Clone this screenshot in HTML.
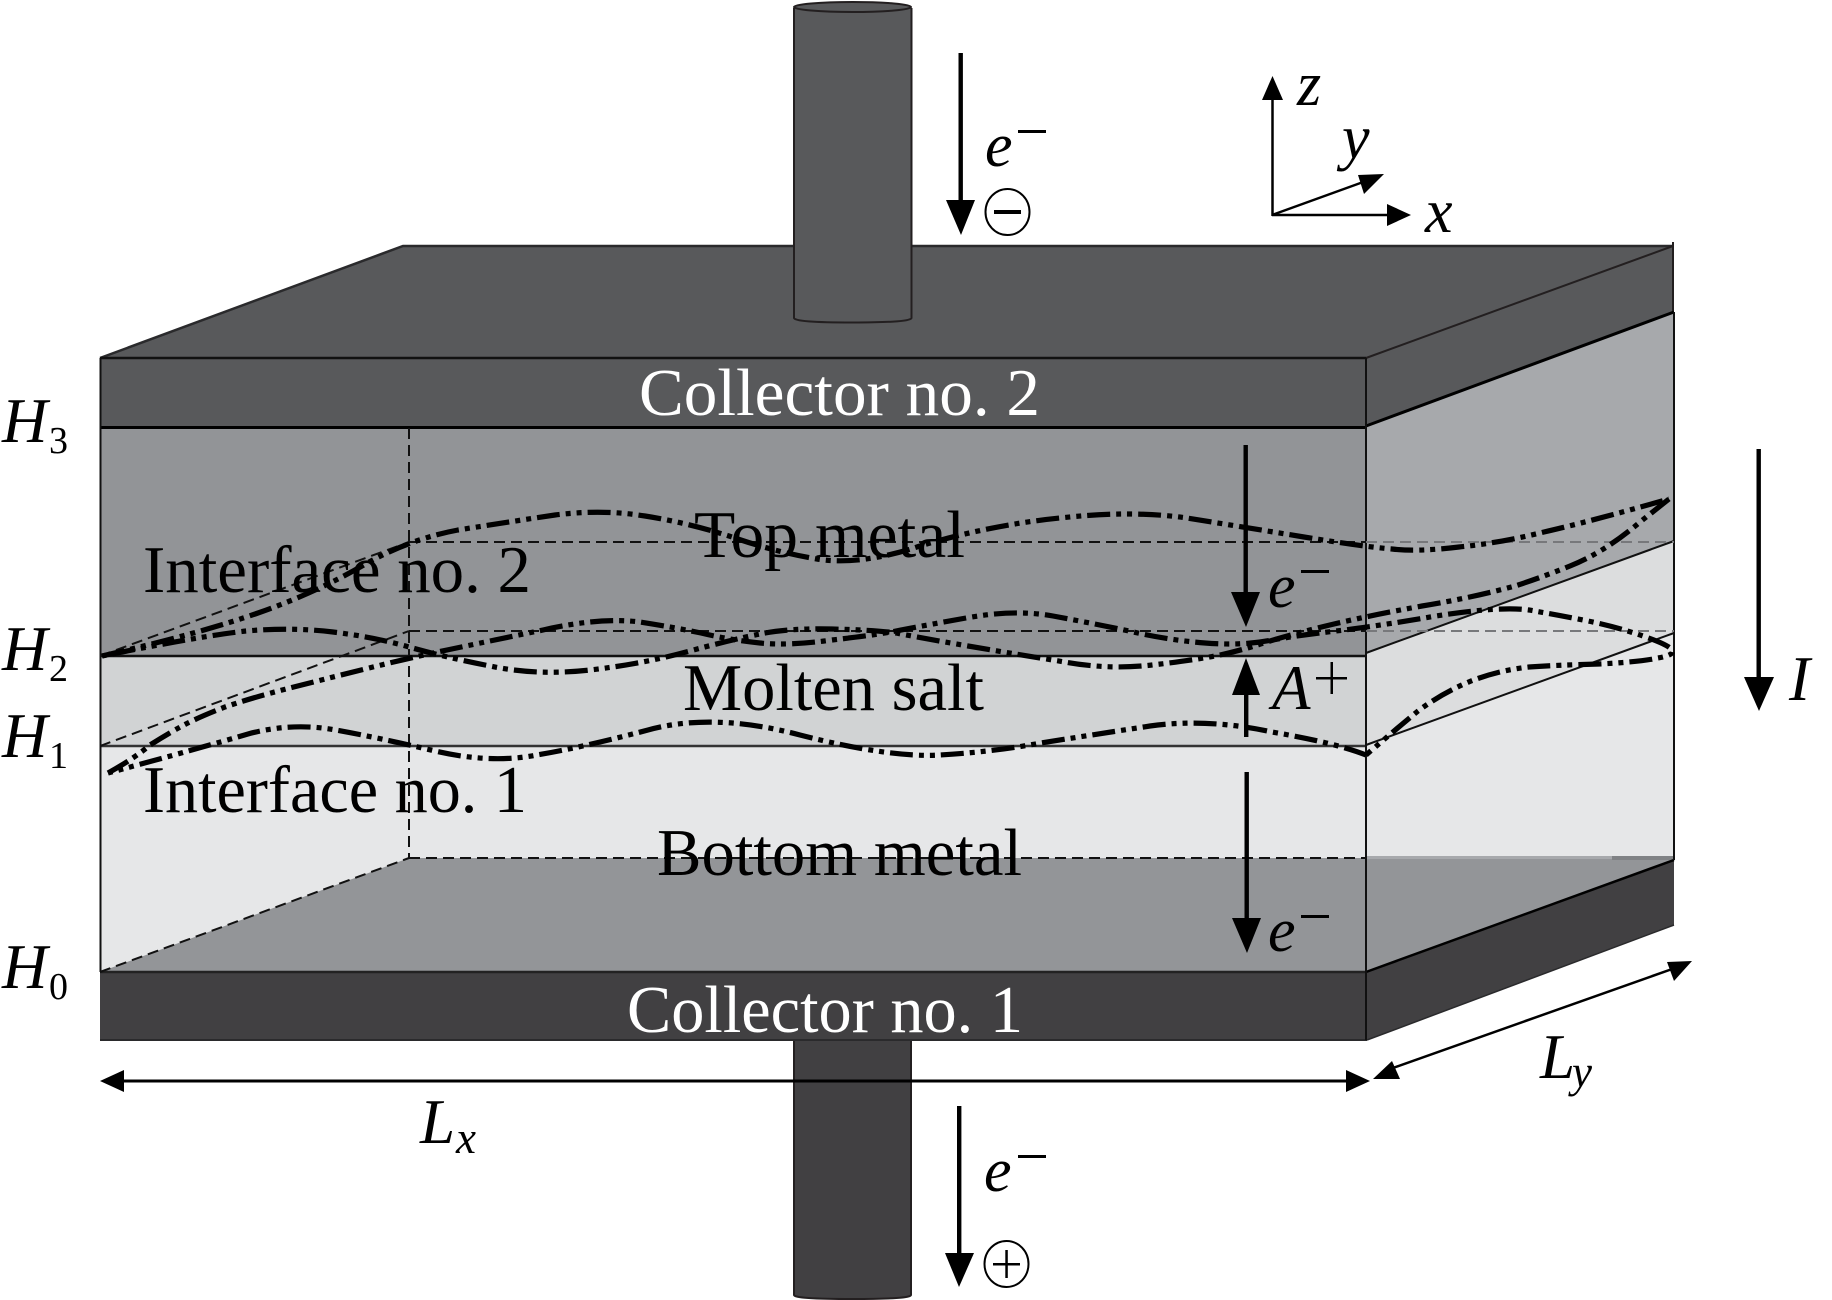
<!DOCTYPE html>
<html>
<head>
<meta charset="utf-8">
<style>
html,body{margin:0;padding:0;background:#fff;width:1832px;height:1300px;overflow:hidden}
svg{display:block}
text{font-family:"Liberation Serif",serif;fill:#000}
.i{font-style:italic}
.w{fill:#fff}
.wave{fill:none;stroke:#000;stroke-width:5.2;stroke-dasharray:23 6 5 6 5 6}
.dash{fill:none;stroke:#111;stroke-width:2;stroke-dasharray:11 6}
.gdash{fill:none;stroke:#77787b;stroke-width:2;stroke-dasharray:11 6}
</style>
</head>
<body>
<svg width="1832" height="1300" viewBox="0 0 1832 1300" xmlns="http://www.w3.org/2000/svg">
<rect width="1832" height="1300" fill="#fff"/>

<!-- top plate -->
<polygon points="100,358 403,246 1673,246 1366,358" fill="#58595b"/>
<polygon points="1366,358 1673,246 1674,312 1366,426" fill="#58595b"/>
<polyline points="100,358 403,246 1673,246" fill="none" stroke="#2a2a2c" stroke-width="2.5"/>
<line x1="1366" y1="358" x2="1673" y2="246" stroke="#231f20" stroke-width="2"/>
<line x1="1673" y1="242" x2="1673" y2="312" stroke="#231f20" stroke-width="2"/>

<!-- side faces -->
<polygon points="1366,426 1674,312 1674,541 1366,653" fill="#a7a9ac"/>
<polygon points="1366,653 1674,541 1674,633 1366,745" fill="#dcddde"/>
<polygon points="1366,745 1674,633 1674,860 1366,972" fill="#e6e7e8"/>

<!-- front faces -->
<rect x="100" y="358" width="1266" height="70" fill="#58595b"/>
<rect x="100" y="428" width="1266" height="228" fill="#929497"/>
<rect x="100" y="656" width="1266" height="90" fill="#d1d3d4"/>
<rect x="100" y="746" width="1266" height="226" fill="#e6e7e8"/>

<!-- floor -->
<polygon points="100,972 409,858 1674,858 1674,860 1366,972" fill="#939598"/>
<rect x="1366" y="856" width="308" height="3" fill="#a7a9ac"/>
<rect x="1612" y="856" width="62" height="4" fill="#808285"/>

<!-- bottom collector -->
<path d="M794 1040V1295Q794 1299 852.500 1299Q911 1299 911 1295V1040Z" fill="#414042" stroke="#231f20" stroke-width="2"/>
<rect x="100" y="972" width="1266" height="69" fill="#414042"/>
<polygon points="1366,972 1674,860 1674,925 1366,1040" fill="#414042"/>
<line x1="100" y1="1040" x2="1367" y2="1040" stroke="#2a2a2c" stroke-width="2"/>
<line x1="1367" y1="1040" x2="1674" y2="925" stroke="#2a2a2c" stroke-width="1.5"/>

<!-- outlines -->
<line x1="100" y1="358" x2="1366" y2="358" stroke="#111" stroke-width="2.5"/>
<line x1="100" y1="427.5" x2="1366" y2="427.5" stroke="#000" stroke-width="3"/>
<line x1="1366" y1="426" x2="1674" y2="312" stroke="#000" stroke-width="3"/>
<line x1="100" y1="656" x2="1366" y2="656" stroke="#111" stroke-width="2.5"/>
<line x1="100" y1="746" x2="1366" y2="746" stroke="#333" stroke-width="2.5"/>
<line x1="100" y1="972" x2="1366" y2="972" stroke="#222" stroke-width="2.5"/>
<line x1="1366" y1="972" x2="1674" y2="860" stroke="#000" stroke-width="2.5"/>
<line x1="1366" y1="653" x2="1674" y2="541" stroke="#111" stroke-width="2"/>
<line x1="1366" y1="745" x2="1674" y2="633" stroke="#111" stroke-width="2"/>
<line x1="100.5" y1="358" x2="100.5" y2="972" stroke="#111" stroke-width="2"/>
<line x1="1366" y1="358" x2="1366" y2="1040" stroke="#111" stroke-width="2"/>
<line x1="1674" y1="312" x2="1674" y2="860" stroke="#111" stroke-width="2"/>

<!-- hidden dashed edges -->
<line class="dash" x1="409" y1="428" x2="409" y2="858"/>
<line class="dash" x1="409" y1="542" x2="1366" y2="542"/>
<line class="gdash" x1="1366" y1="542" x2="1674" y2="542"/>
<line class="dash" x1="409" y1="631" x2="1366" y2="631"/>
<line class="gdash" x1="1366" y1="631" x2="1674" y2="631"/>
<line class="dash" x1="409" y1="858" x2="1366" y2="858"/>
<line class="dash" x1="100" y1="656" x2="409" y2="542"/>
<line class="dash" x1="100" y1="746" x2="409" y2="631"/>
<line class="dash" x1="100" y1="972" x2="409" y2="858"/>

<!-- top stem -->
<path d="M794 8V318Q794 322.500 852.500 322.500Q911.500 322.500 911.500 318V8" fill="#58595b" stroke="#231f20" stroke-width="2"/>
<ellipse cx="852.500" cy="7" rx="58.500" ry="5" fill="#58595b" stroke="#231f20" stroke-width="2"/>

<!-- labels -->
<text class="w" x="639" y="415" font-size="67" textLength="401" lengthAdjust="spacingAndGlyphs">Collector no. 2</text>
<text class="w" x="627" y="1032" font-size="67" textLength="396" lengthAdjust="spacingAndGlyphs">Collector no. 1</text>
<text x="143" y="592" font-size="67" textLength="388" lengthAdjust="spacingAndGlyphs">Interface no. 2</text>
<text x="143" y="812" font-size="67" textLength="384" lengthAdjust="spacingAndGlyphs">Interface no. 1</text>
<text x="694" y="557" font-size="67" textLength="271" lengthAdjust="spacingAndGlyphs">Top metal</text>
<text x="683" y="710" font-size="67" textLength="301" lengthAdjust="spacingAndGlyphs">Molten salt</text>
<text x="657" y="875" font-size="67" textLength="365" lengthAdjust="spacingAndGlyphs">Bottom metal</text>

<text class="i" x="2" y="442" font-size="63">H</text><text x="49" y="453" font-size="38">3</text>
<text class="i" x="2" y="670" font-size="63">H</text><text x="49" y="681" font-size="38">2</text>
<text class="i" x="2" y="757" font-size="63">H</text><text x="49" y="768" font-size="38">1</text>
<text class="i" x="2" y="988" font-size="63">H</text><text x="49" y="999" font-size="38">0</text>

<!-- waves -->
<path class="wave" d="M102 656Q201 633 258 613Q315 593 362 566Q409 539 458 530Q508 522 555 515Q602 509 645 516Q689 523 732 537Q775 552 817 559Q860 566 920 546Q990 525 1060 518Q1131 510 1187 518Q1243 527 1304 537Q1366 547 1392 549Q1418 552 1459 547Q1500 543 1544 532Q1588 522 1669 499"/>
<path class="wave" d="M1669 499L1640 522Q1605 552 1570 566Q1540 578 1515 586Q1471 598 1422 606Q1372 615 1334 624Q1296 633 1270 641Q1243 650 1220 655Q1196 660 1152 665Q1109 670 1065 662Q1021 655 968 646Q916 637 896 633Q876 630 832 629Q789 628 760 634Q730 640 686 652Q642 664 590 670Q537 676 490 666Q444 657 409 647Q374 637 333 632Q292 627 246 631Q201 636 102 656"/>
<path class="wave" d="M108 773Q135 758 150 745Q169 733 184 725Q199 717 225 707Q251 698 286 689Q321 680 365 669Q409 658 447 650Q485 642 543 630Q600 617 640 622Q672 627 701 633Q730 640 760 643Q789 646 832 640Q876 635 896 631Q916 627 966 618Q1015 609 1053 616Q1091 623 1129 631Q1167 640 1205 643Q1243 646 1272 640Q1301 635 1336 631Q1372 627 1436 616Q1500 606 1529 610Q1558 615 1588 621Q1617 627 1643 636Q1669 645 1672 650Q1675 655 1658 658Q1640 662 1599 664Q1558 665 1529 667Q1500 670 1471 681Q1442 693 1418 711Q1395 730 1366 755"/>
<path class="wave" d="M1366 755Q1336 743 1272 732Q1208 718 1150 726Q1091 735 1041 743Q992 752 940 755Q890 758 800 735Q713 712 648 730Q584 747 537 755Q491 764 435 751Q380 738 336 730Q292 722 248 734Q204 747 108 773"/>

<!-- vertical arrows -->
<g fill="#000" stroke="none">
<rect x="958.500" y="53" width="4.400" height="150"/><polygon points="946,200 975,200 961,235"/>
<rect x="1243.500" y="445" width="4.400" height="150"/><polygon points="1231,592 1260,592 1246,627"/>
<rect x="1244" y="692" width="4.400" height="45"/><polygon points="1232,695 1260,695 1246,658"/>
<rect x="1244.500" y="772" width="4.400" height="150"/><polygon points="1232,918 1261,918 1247,953"/>
<rect x="1756.500" y="449" width="4.400" height="232"/><polygon points="1744,677 1774,677 1759,711"/>
<rect x="957" y="1106" width="4.400" height="150"/><polygon points="945,1253 974,1253 959,1287"/>
</g>

<!-- dimension arrows -->
<rect x="120" y="1079.500" width="1230" height="3" fill="#000"/>
<polygon points="100,1081 124,1070 124,1092" fill="#000"/>
<polygon points="1370,1081 1346,1070 1346,1092" fill="#000"/>
<line x1="1390" y1="1069" x2="1675" y2="968" stroke="#000" stroke-width="2.500"/>
<polygon points="1373,1079 1392,1061 1400,1079" fill="#000"/>
<polygon points="1692,961 1667,962 1674,981" fill="#000"/>

<!-- coordinate axes -->
<line x1="1272.500" y1="98" x2="1272.500" y2="216" stroke="#000" stroke-width="2.500"/>
<polygon points="1272.500,76 1262,100 1283,100" fill="#000"/>
<line x1="1272" y1="215" x2="1390" y2="215" stroke="#000" stroke-width="2.500"/>
<polygon points="1411,215 1387,204 1387,226" fill="#000"/>
<line x1="1272" y1="215" x2="1366" y2="181" stroke="#000" stroke-width="2.500"/>
<polygon points="1384,174 1358,175 1364,194" fill="#000"/>
<text class="i" x="1297" y="105" font-size="62">z</text>
<text class="i" x="1342" y="158" font-size="62">y</text>
<text class="i" x="1425" y="232" font-size="62">x</text>

<!-- e- / A+ / I / Lx / Ly -->
<g>
<text class="i" x="985" y="166" font-size="62">e</text><rect x="1018" y="130" width="28" height="3"/>
<text class="i" x="1268" y="607" font-size="62">e</text><rect x="1301" y="570" width="28" height="3"/>
<text class="i" x="1268" y="951" font-size="62">e</text><rect x="1301" y="915" width="28" height="3"/>
<text class="i" x="984" y="1191" font-size="62">e</text><rect x="1018" y="1155" width="28" height="3"/>
<text class="i" x="1272" y="709" font-size="63">A</text>
<rect x="1316" y="677" width="31" height="2.500"/><rect x="1330.500" y="662" width="2.500" height="32"/>
<text class="i" x="1789" y="700" font-size="63">I</text>
<text class="i" x="420" y="1143" font-size="63">L</text><text class="i" x="456" y="1153" font-size="45">x</text>
<text class="i" x="1540" y="1078" font-size="63">L</text><text class="i" x="1572" y="1087" font-size="45">y</text>
</g>

<!-- charge symbols -->
<ellipse cx="1007.500" cy="212" rx="22" ry="23" fill="#fff" stroke="#000" stroke-width="2"/>
<rect x="994" y="210" width="27" height="4" fill="#000"/>
<ellipse cx="1006.500" cy="1264" rx="22" ry="23" fill="#fff" stroke="#000" stroke-width="2"/>
<rect x="993" y="1263" width="27" height="2.500" fill="#000"/>
<rect x="1005.300" y="1250" width="2.500" height="28" fill="#000"/>
</svg>
</body>
</html>
